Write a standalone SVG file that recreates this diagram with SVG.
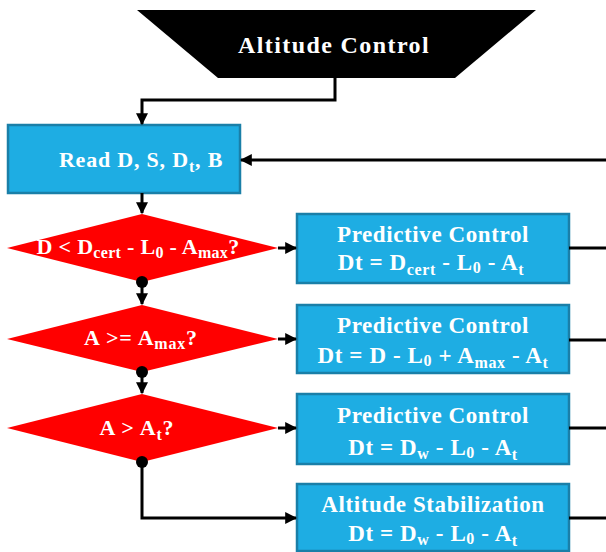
<svg xmlns="http://www.w3.org/2000/svg" width="606" height="552" viewBox="0 0 606 552">
<defs>
<style>
.box{fill:#1EADE3;stroke:#1A7FA8;stroke-width:2.5}
.dia{fill:#FF0000}
.t{font-family:"Liberation Serif","Times New Roman",serif;font-weight:bold;fill:#fff;text-anchor:middle;font-size:23px;letter-spacing:0.6px}
.s{font-size:16px}
.ln{fill:none;stroke:#000;stroke-width:3}
</style>
<marker id="ah" viewBox="0 0 10 10" refX="9" refY="5" markerWidth="4" markerHeight="4" markerUnits="strokeWidth" orient="auto">
<path d="M0,0 L10,5 L0,10 z" fill="#000"/>
</marker>
</defs>
<g id="start">
<polygon points="137,10 536,10 455,78 218,78" fill="#000"/>
<text class="t" x="334" y="53" style="font-size:24px;letter-spacing:1.4px">Altitude Control</text>
</g>
<g id="read">
<rect class="box" x="8" y="125" width="232" height="68"/>
<text class="t" x="141" y="167" style="font-size:22px;letter-spacing:0.8px">Read D, S, D<tspan class="s" dy="5">t</tspan><tspan dy="-5">, B</tspan></text>
</g>
<g id="dec1">
<polygon class="dia" points="142,214 278,248 142,282 7,248"/>
<text class="t" x="138" y="254" style="font-size:22px;letter-spacing:0.3px">D &lt; D<tspan class="s" dy="4">cert</tspan><tspan dy="-4"> - L</tspan><tspan class="s" dy="4">0</tspan><tspan dy="-4"> - A</tspan><tspan class="s" dy="4">max</tspan><tspan dy="-4">?</tspan></text>
</g>
<g id="dec2">
<polygon class="dia" points="142,305 278,339 142,372 7,339"/>
<text class="t" x="141" y="345" style="font-size:22px;letter-spacing:0.8px">A &gt;= A<tspan class="s" dy="4">max</tspan><tspan dy="-4">?</tspan></text>
</g>
<g id="dec3">
<polygon class="dia" points="142,394 278,428 142,462 7,428"/>
<text class="t" x="137" y="435" style="font-size:22px;letter-spacing:0.8px">A &gt; A<tspan class="s" dy="5">t</tspan><tspan dy="-5">?</tspan></text>
</g>
<g id="box1">
<rect class="box" x="297" y="214" width="272" height="69"/>
<text class="t" x="433" y="242">Predictive Control</text>
<text class="t" x="431" y="270">Dt = D<tspan class="s" dy="5">cert</tspan><tspan dy="-5"> - L</tspan><tspan class="s" dy="3">0</tspan><tspan dy="-3"> - A</tspan><tspan class="s" dy="5">t</tspan></text>
</g>
<g id="box2">
<rect class="box" x="297" y="305" width="272" height="68"/>
<text class="t" x="433" y="333">Predictive Control</text>
<text class="t" x="433" y="363">Dt = D - L<tspan class="s" dy="3">0</tspan><tspan dy="-3"> + A</tspan><tspan class="s" dy="5">max</tspan><tspan dy="-5"> - A</tspan><tspan class="s" dy="5">t</tspan></text>
</g>
<g id="box3">
<rect class="box" x="297" y="394" width="272" height="70"/>
<text class="t" x="433" y="423">Predictive Control</text>
<text class="t" x="433" y="455">Dt = D<tspan class="s" dy="4">w</tspan><tspan dy="-4"> - L</tspan><tspan class="s" dy="3">0</tspan><tspan dy="-3"> - A</tspan><tspan class="s" dy="5">t</tspan></text>
</g>
<g id="box4">
<rect class="box" x="297" y="484" width="272" height="67"/>
<text class="t" x="433" y="512">Altitude Stabilization</text>
<text class="t" x="433" y="541">Dt = D<tspan class="s" dy="4">w</tspan><tspan dy="-4"> - L</tspan><tspan class="s" dy="3">0</tspan><tspan dy="-3"> - A</tspan><tspan class="s" dy="5">t</tspan></text>
</g>
<g id="connectors">
<path class="ln" d="M335,78 V100 H142 V124" marker-end="url(#ah)"/>
<path class="ln" d="M606,160 H241" marker-end="url(#ah)"/>
<path class="ln" d="M142,193 V213" marker-end="url(#ah)"/>
<path class="ln" d="M278,248 H296" marker-end="url(#ah)"/>
<path class="ln" d="M142,282 V304" marker-end="url(#ah)"/>
<circle cx="142" cy="282" r="6" fill="#000"/>
<path class="ln" d="M278,339 H296" marker-end="url(#ah)"/>
<path class="ln" d="M142,372 V393" marker-end="url(#ah)"/>
<circle cx="142" cy="372" r="6" fill="#000"/>
<path class="ln" d="M278,428 H296" marker-end="url(#ah)"/>
<path class="ln" d="M142,462 V518 H296" marker-end="url(#ah)"/>
<circle cx="142" cy="462" r="6" fill="#000"/>
<path class="ln" d="M569,248 H606"/>
<path class="ln" d="M569,340 H606"/>
<path class="ln" d="M569,428 H606"/>
<path class="ln" d="M569,518 H606"/>
</g>
</svg>
